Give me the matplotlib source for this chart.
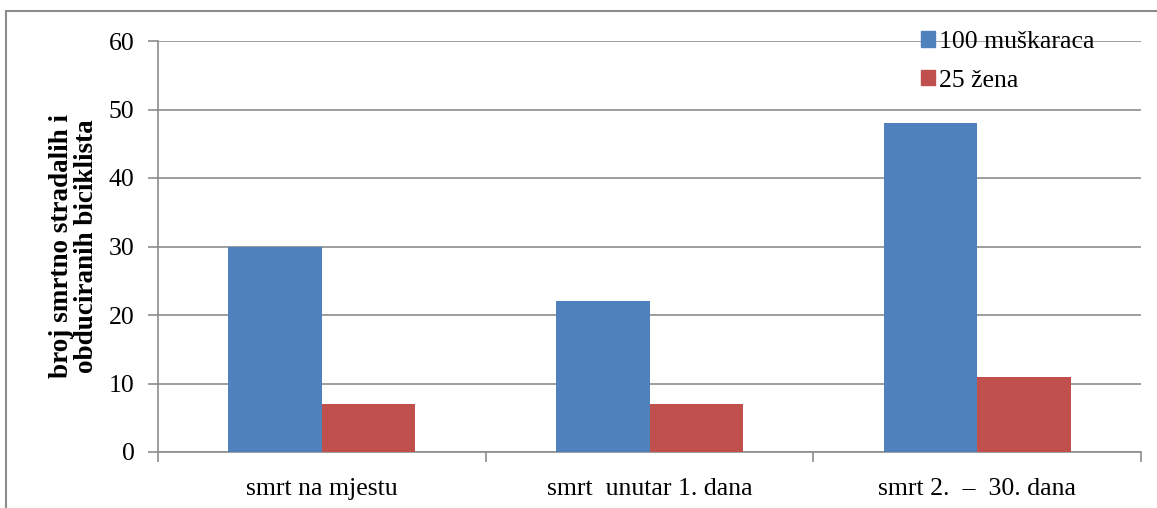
import matplotlib.pyplot as plt
import numpy as np
from matplotlib.patches import Patch, Rectangle

# Podaci
kategorije = ["smrt na mjestu", "smrt  unutar 1. dana", "smrt 2.  \u2013  30. dana"]
muskarci = [30, 22, 48]
zene = [7, 7, 11]
serije = ["100 muškaraca", "25 žena"]

plava = "#4F81BD"
crvena = "#C0504D"
siva = "#8C8C8C"

plt.rcParams['font.family'] = ['Liberation Serif', 'DejaVu Serif']

fig = plt.figure(figsize=(11.57, 5.08), dpi=100)
ax = fig.add_axes([158/1157, 1 - 452/508, (1141 - 158)/1157, (452 - 41)/508])

x = np.arange(len(kategorije))
w = 2 / 7  # Excel: gap width 150 %
ax.bar(x - w/2, muskarci, w, color=plava, zorder=3)
ax.bar(x + w/2, zene, w, color=crvena, zorder=3)

ax.set_xlim(-0.5, len(kategorije) - 0.5)
ax.set_ylim(0, 60)
ax.set_yticks(range(0, 61, 10))
ax.yaxis.grid(True, color=siva, linewidth=1.2, zorder=0)

ax.set_xticks(x)
ax.set_xticklabels(kategorije, fontsize=18.5)
ax.tick_params(axis='x', length=0, pad=19)
ax.set_xticks(np.arange(-0.5, len(kategorije)), minor=True)
ax.tick_params(axis='x', which='minor', length=7, color=siva, width=1.2)
ax.tick_params(axis='y', length=7, color=siva, width=1.2, labelsize=18.5, pad=10)

ax.spines['top'].set_color('none')
ax.spines['right'].set_color('none')
ax.spines['left'].set_color(siva)
ax.spines['bottom'].set_color(siva)
ax.spines['left'].set_linewidth(1.2)
ax.spines['bottom'].set_linewidth(1.2)

ax.set_ylabel("broj smrtno stradalih i\nobduciranih biciklista", fontsize=19.5,
              fontweight="bold", labelpad=7, linespacing=1.0)

rucke = [Patch(color=plava), Patch(color=crvena)]
ax.legend(rucke, serije, loc='upper left', bbox_to_anchor=(921/1157, 1 - 31/508),
          bbox_transform=fig.transFigure, frameon=False, fontsize=18.5,
          handlelength=0.55, handleheight=0.55, handletextpad=0.15,
          labelspacing=0.65, borderpad=0, borderaxespad=0)

# okvir grafikona
fig.patches.append(Rectangle((6/1157, -0.1), 1.2, 1.1 - 11/508, transform=fig.transFigure,
                             fill=False, edgecolor=siva, linewidth=1.5))

plt.savefig("out.png", dpi=100)
